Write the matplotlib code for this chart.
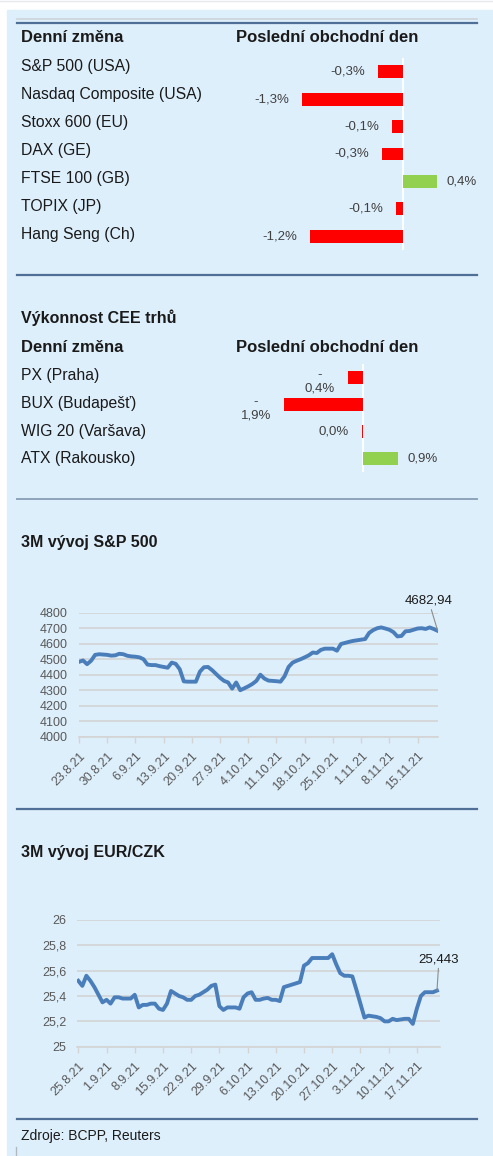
import matplotlib
matplotlib.use("Agg")
import matplotlib.pyplot as plt
import pandas as pd
from matplotlib.ticker import FuncFormatter, MultipleLocator

plt.rcParams['font.family'] = ['Liberation Sans', 'DejaVu Sans']

# ---------------- data ----------------
world_names = ["S&P 500 (USA)", "Nasdaq Composite (USA)", "Stoxx 600 (EU)", "DAX (GE)",
               "FTSE 100 (GB)", "TOPIX (JP)", "Hang Seng (Ch)"]
world_changes = [-0.32, -1.30, -0.14, -0.27, 0.44, -0.09, -1.20]

cee_names = ["PX (Praha)", "BUX (Budapešť)", "WIG 20 (Varšava)", "ATX (Rakousko)"]
cee_changes = [-0.36, -1.90, -0.02, 0.86]

sp_start = "2021-08-23"
sp500 = [4483, 4492, 4468, 4490, 4528, 4532, 4530, 4528, 4523, 4525,
         4535, 4532, 4522, 4518, 4516, 4512, 4500, 4465, 4462, 4462,
         4455, 4450, 4445, 4478, 4470, 4435, 4357, 4355, 4355, 4355,
         4420, 4448, 4450, 4430, 4405, 4380, 4360, 4350, 4310, 4350,
         4300, 4312, 4325, 4340, 4360, 4400, 4375, 4362, 4360, 4358,
         4355, 4390, 4450, 4478, 4490, 4500, 4512, 4525, 4543, 4540,
         4560, 4568, 4568, 4568, 4555, 4598, 4605, 4612, 4618, 4622,
         4626, 4630, 4670, 4688, 4700, 4705, 4698, 4690, 4675, 4647,
         4650, 4680, 4682, 4690, 4698, 4700, 4695, 4705, 4695, 4682.94]

czk_start = "2021-08-25"
eurczk = [25.52, 25.48, 25.56, 25.52, 25.47, 25.41, 25.35, 25.37, 25.34, 25.39,
          25.39, 25.38, 25.38, 25.38, 25.41, 25.31, 25.33, 25.33, 25.34, 25.34,
          25.30, 25.29, 25.34, 25.44, 25.42, 25.40, 25.39, 25.37, 25.37, 25.40,
          25.41, 25.43, 25.45, 25.48, 25.49, 25.32, 25.29, 25.31, 25.31, 25.31,
          25.30, 25.39, 25.42, 25.43, 25.37, 25.37, 25.38, 25.385, 25.37, 25.37,
          25.36, 25.47, 25.48, 25.49, 25.50, 25.51, 25.64, 25.66, 25.70, 25.70,
          25.70, 25.70, 25.70, 25.73, 25.65, 25.58, 25.56, 25.56, 25.555, 25.45,
          25.34, 25.23, 25.245, 25.24, 25.235, 25.225, 25.20, 25.20, 25.22, 25.21,
          25.215, 25.22, 25.22, 25.18, 25.30, 25.40, 25.43, 25.43, 25.43, 25.443]

# ---------------- layout helpers ----------------
W, H = 493, 1156
fig = plt.figure(figsize=(W / 100, H / 100), dpi=100, facecolor="white")


def box(x0, y0, x1, y1):
    return [x0 / W, 1 - y1 / H, (x1 - x0) / W, (y1 - y0) / H]


PANEL = "#DEEFFC"
TXT = "#1a1a1a"
LBL = "#404040"
TICK = "#595959"
GRID = "#d4d4d4"
LINE = "#4A7EBB"
BLUE_RULE = "#4F6F96"

bg = fig.add_axes([0, 0, 1, 1])
bg.set_xlim(0, W)
bg.set_ylim(H, 0)
bg.axis("off")
bg.add_patch(plt.Rectangle((7, 10), W - 7, H - 10, color=PANEL, zorder=0))
bg.plot([0, W], [0.5, 0.5], color="#e6e9ee", lw=1)

# rules
bg.plot([17, 477], [19, 19], color="#cfd3d8", lw=1.2)
for yy in (23, 275, 809, 1119):
    bg.plot([17, 477], [yy, yy], color=BLUE_RULE, lw=1.6)
bg.plot([17, 477], [499, 499], color="#8ea3ba", lw=1.4)
bg.plot([16, 16], [1147, 1156], color="#b0b8c0", lw=1)

# headers
bg.text(21, 37, "Denní změna", fontsize=12, fontweight="bold", color=TXT, va="center")
bg.text(236, 37, "Poslední obchodní den", fontsize=12, fontweight="bold", color=TXT, va="center")
bg.text(21, 318, "Výkonnost CEE trhů", fontsize=11.5, fontweight="bold", color=TXT, va="center")
bg.text(21, 347, "Denní změna", fontsize=12, fontweight="bold", color=TXT, va="center")
bg.text(236, 347, "Poslední obchodní den", fontsize=12, fontweight="bold", color=TXT, va="center")
bg.text(21, 543, "3M vývoj S&P 500", fontsize=11.5, fontweight="bold", color=TXT, va="center")
bg.text(21, 853, "3M vývoj EUR/CZK", fontsize=11.5, fontweight="bold", color=TXT, va="center")
bg.text(21, 1136, "Zdroje: BCPP, Reuters", fontsize=10, color=TXT, va="center")

for i, name in enumerate(world_names):
    bg.text(21, 66 + 28 * i, name, fontsize=11.3, color=TXT, va="center")
for i, name in enumerate(cee_names):
    bg.text(21, 375.7 + 27.7 * i, name, fontsize=11.3, color=TXT, va="center")


def fmt_pct(v):
    s = f"{v:.1f}"
    if s == "-0.0":
        s = "0.0"
    return s.replace(".", ",") + "%"


def bar_panel(rect, zero_px, px_per_unit, x_left, x_right, values, wrap):
    ax = fig.add_axes(box(*rect))
    ax.set_facecolor("none")
    ax.set_xlim((x_left - zero_px) / px_per_unit, (x_right - zero_px) / px_per_unit)
    n = len(values)
    ax.set_ylim(n - 0.5, -0.5)
    colors = ["#FF0000" if v < 0 else "#92D050" for v in values]
    ax.barh(range(n), values, height=0.47, color=colors, zorder=2)
    ax.axvline(0, color="white", lw=1.3, zorder=1)
    for i, v in enumerate(values):
        s = fmt_pct(v)
        if v < 0:
            dy = 0
            if wrap and s.startswith("-"):
                s = "-\n" + s[1:]
                dy = -4
            ax.annotate(s, (v, i), xytext=(-13, dy), textcoords="offset pixels",
                        ha="right", va="center", multialignment="center",
                        fontsize=9.5, color=LBL, linespacing=1.15)
        else:
            ax.annotate(s, (v, i), xytext=(9, 0), textcoords="offset pixels",
                        ha="left", va="center", fontsize=9.5, color=LBL)
    ax.axis("off")
    return ax


bar_panel((230, 58, 480, 250), 403, 77.7, 230, 480, world_changes, wrap=False)
bar_panel((230, 364, 480, 472), 362.7, 41.4, 230, 480, cee_changes, wrap=True)


def line_panel(rect, start, values, ylo, yhi, ystep, yfmt, xpad_left, xpad_right, ann_text, ann_off):
    ax = fig.add_axes(box(*rect))
    ax.set_facecolor("none")
    dates = pd.date_range(start, periods=len(values), freq="D")
    ax.plot(dates, values, color=LINE, lw=2.8, solid_joinstyle="round", zorder=3)
    ax.set_xlim(dates[0] - pd.Timedelta(days=xpad_left), dates[-1] + pd.Timedelta(days=xpad_right))
    ax.set_ylim(ylo, yhi)
    ax.yaxis.set_major_locator(MultipleLocator(ystep))
    ax.yaxis.set_major_formatter(FuncFormatter(yfmt))
    ticks = dates[::7]
    ax.set_xticks(ticks)
    ax.set_xticklabels([f"{d.day}.{d.month}.{d.strftime('%y')}" for d in ticks],
                       rotation=45, ha="right", va="top", rotation_mode="anchor")
    ax.grid(axis="y", color=GRID, lw=1.2, zorder=0)
    for s in ("top", "right", "left"):
        ax.spines[s].set_visible(False)
    ax.spines["bottom"].set_color(GRID)
    ax.spines["bottom"].set_linewidth(1.2)
    ax.tick_params(axis="y", length=0, pad=8, labelsize=9, labelcolor=TICK)
    ax.tick_params(axis="x", length=4.5, width=1, color=GRID, pad=5, labelsize=9, labelcolor=TICK)
    ax.annotate(ann_text, (dates[-1], values[-1]), xytext=ann_off, textcoords="offset pixels",
                ha="center", va="bottom", fontsize=9.5, color=TXT,
                arrowprops=dict(arrowstyle="-", color="#8c8c8c", lw=0.8, shrinkA=0, shrinkB=0))
    return ax


line_panel((79, 612.7, 437.7, 736.7), sp_start, sp500, 4000, 4800, 100,
           lambda v, p: f"{v:.0f}", 0, 0, "4682,94", (-9, 24))
line_panel((77.3, 920, 440, 1046.7), czk_start, eurczk, 25, 26, 0.2,
           lambda v, p: f"{round(v, 1):g}".replace(".", ","), 0.25, 0.75, "25,443", (2, 25))

fig.savefig("out.png", dpi=100, facecolor=fig.get_facecolor())
